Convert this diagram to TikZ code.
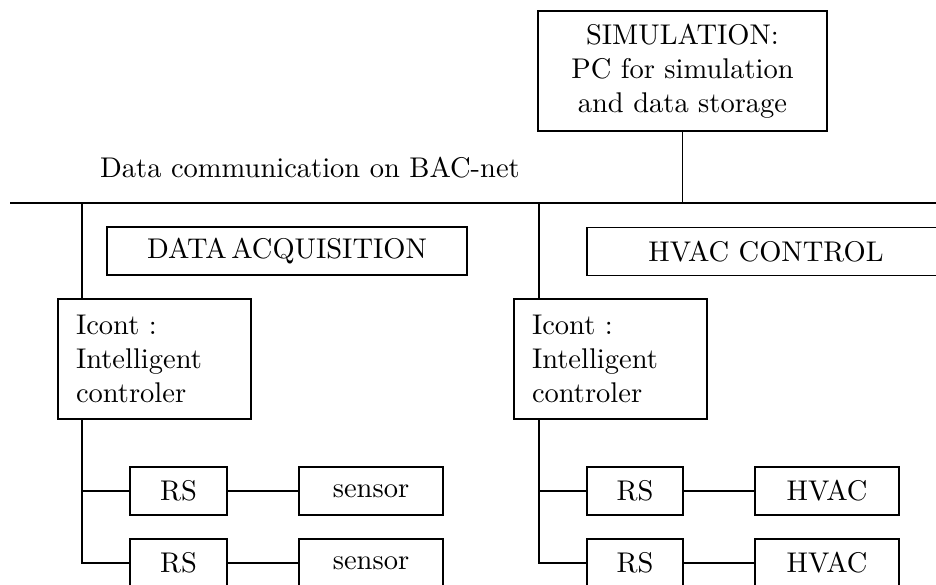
\documentclass[tikz,border=0pt]{standalone}
\usepackage{fontspec}
\setmainfont{lmroman10-regular}[Extension=.otf]
\begin{document}
\begin{tikzpicture}[x=1pt,y=-1pt,
  every node/.style={font=\fontsize{28.5}{34}\selectfont},
  box/.style={draw, line width=1.4pt, inner sep=0pt, minimum height=48pt},
  bigbox/.style={draw, line width=1.4pt, inner sep=0pt, minimum height=120pt, align=center},
  ibox/.style={draw, line width=1.4pt, inner xsep=18pt, inner ysep=0pt, minimum height=120pt, text width=157pt, align=left},
  wire/.style={line width=1.4pt}]
\clip (0,0) rectangle (936,585);
\useasboundingbox (0,0) rectangle (936,585);
% nodes
\node[bigbox, minimum width=289pt] (sim) at (682.5,71) {SIMULATION:\\PC for simulation\\and data storage};
\node[anchor=base west, inner sep=0pt] (buslabel) at (100,178) {Data communication on BAC-net};
\node[box, minimum width=360pt] (daq) at (287,251) {DATA\,ACQUISITION};
\node[box, minimum width=358pt] (hvc) at (766,251.5) {HVAC CONTROL};
\node[ibox] (icl) at (154.5,359) {Icont :\\Intelligent\\controler};
\node[ibox] (icr) at (610.5,359) {Icont :\\Intelligent\\controler};
\node[box, minimum width=97pt] (rs1l) at (178.5,491) {RS};
\node[box, minimum width=144pt] (sen1) at (371,491) {sensor};
\node[box, minimum width=97pt] (rs2l) at (178.5,563) {RS};
\node[box, minimum width=144pt] (sen2) at (371,563) {sensor};
\node[box, minimum width=96pt] (rs1r) at (635,491) {RS};
\node[box, minimum width=144pt] (hv1) at (827,491) {HVAC};
\node[box, minimum width=96pt] (rs2r) at (635,563) {RS};
\node[box, minimum width=144pt] (hv2) at (827,563) {HVAC};
% bus
\coordinate (busL) at (10,203);
\coordinate (busR) at (940,203);
\coordinate (tapL) at (82,203);
\coordinate (tapR) at (539,203);
\draw[wire] (busL) -- (busR);
\draw[wire] (sim.south) -- (sim.south |- busL);
% left branch
\draw[wire] (tapL) -- (icl.north -| tapL);
\draw[wire] (icl.south -| tapL) |- (rs2l.west);
\draw[wire] (tapL |- rs1l.west) -- (rs1l.west);
\draw[wire] (rs1l) -- (sen1);
\draw[wire] (rs2l) -- (sen2);
% right branch
\draw[wire] (tapR) -- (icr.north -| tapR);
\draw[wire] (icr.south -| tapR) |- (rs2r.west);
\draw[wire] (tapR |- rs1r.west) -- (rs1r.west);
\draw[wire] (rs1r) -- (hv1);
\draw[wire] (rs2r) -- (hv2);
\end{tikzpicture}
\end{document}
